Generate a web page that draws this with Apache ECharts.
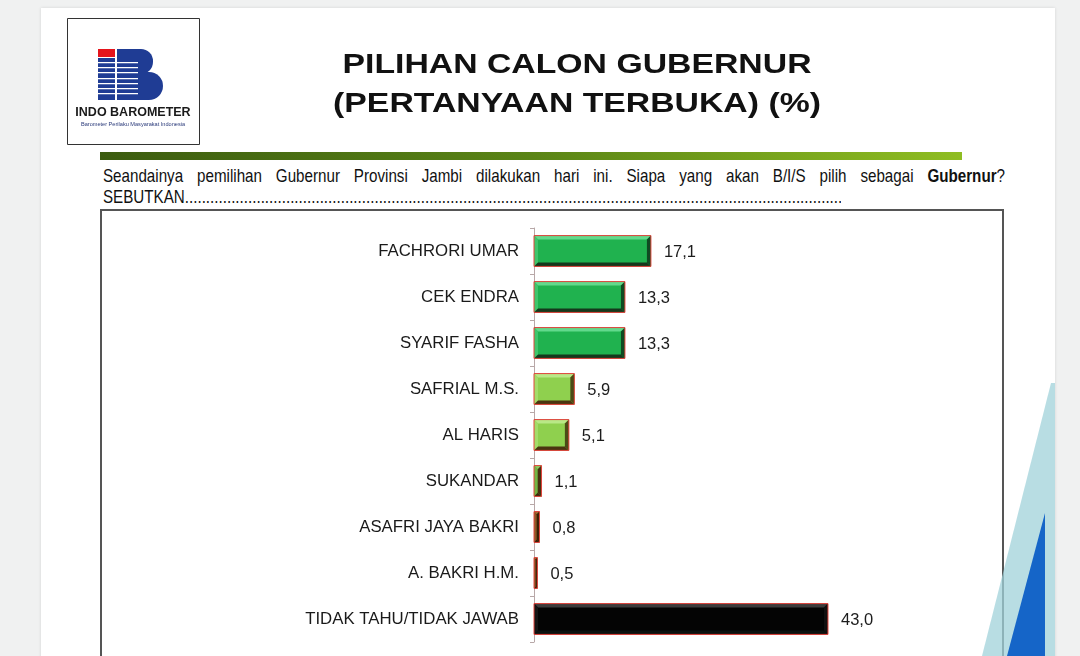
<!DOCTYPE html>
<html>
<head>
<meta charset="utf-8">
<script src="https://cdn.jsdelivr.net/npm/echarts@6/dist/echarts.min.js"></script>
<style>
  html, body { margin:0; padding:0; width:1080px; height:656px; overflow:hidden; background:#f0f1f1; }
  #slide { position:absolute; left:41px; top:8px; width:1014px; height:660px; background:#fff; box-shadow:0 0 3px rgba(0,0,0,0.12); }
  .q { position:absolute; left:103px; width:1100px; font:18.5px "Liberation Sans",Arial,sans-serif; color:#111; line-height:21px; white-space:nowrap; transform:scaleX(0.82); transform-origin:0 0; }
  #q1 { top:165px; text-align:justify; text-align-last:justify; white-space:normal; }
  #q2 { top:186px; width:900px; overflow:hidden; }
  #chart { position:absolute; left:0; top:0; width:1080px; height:656px; }
</style>
</head>
<body>
<div id="slide"></div>
<div class="q" id="q1">Seandainya pemilihan Gubernur Provinsi Jambi dilakukan hari ini. Siapa yang akan B/I/S pilih sebagai <b>Gubernur</b>?</div>
<div class="q" id="q2">SEBUTKAN..............................................................................................................................................................................................................................................</div>
<div id="chart"></div>
<script>
// ---- data ----
const categories = ['FACHRORI UMAR', 'CEK ENDRA', 'SYARIF FASHA', 'SAFRIAL M.S.', 'AL HARIS', 'SUKANDAR', 'ASAFRI JAYA BAKRI', 'A. BAKRI H.M.', 'TIDAK TAHU/TIDAK JAWAB'];
const values = [17.1, 13.3, 13.3, 5.9, 5.1, 1.1, 0.8, 0.5, 43.0];
const titleLines = ['PILIHAN CALON GUBERNUR', '(PERTANYAAN TERBUKA) (%)'];

// ---- styles ----
const greenStyle = { base:'#20b24f', top:'#62d98c', left:'#40c56c', right:'#0f4a22', bottom:'#14381c' };
const lightStyle = { base:'#8fd04e', top:'#b9e886', left:'#a3dc69', right:'#4b4a16', bottom:'#4a3510' };
const midStyle   = { base:'#5c9e2e', top:'#8cc860', left:'#74b444', right:'#4a3010', bottom:'#3e2a0c' };
const brownStyle = { base:'#7a4a1a', top:'#a36c34', left:'#8c5a26', right:'#3a2008', bottom:'#2e1a06' };
const blackStyle = { base:'#040404', top:'#3c3c3c', left:'#151515', right:'#101010', bottom:'#0b1210' };
const barStyles = [greenStyle, greenStyle, greenStyle, lightStyle, lightStyle, midStyle, brownStyle, brownStyle, blackStyle];

const chart = echarts.init(document.getElementById('chart'), null, { renderer: 'canvas' });

function fmt(v) { return v.toFixed(1).replace('.', ','); }

function renderBar(params, api) {
  const v = api.value(0), i = api.value(1);
  const p0 = api.coord([0, i]);
  const p1 = api.coord([v, i]);
  const band = api.size([0, 1])[1];
  const h = band * 0.67;
  const x0 = p0[0], x1 = p1[0], yc = p0[1], y0 = yc - h / 2, y1 = yc + h / 2;
  const w = x1 - x0;
  const b = Math.min(4, w / 2);
  const s = barStyles[i];
  return {
    type: 'group',
    children: [
      { type:'rect', shape:{ x:x0, y:y0, width:w, height:h }, style:{ fill:s.base } },
      { type:'polygon', shape:{ points:[[x0,y0],[x1,y0],[x1-b,y0+b],[x0+b,y0+b]] }, style:{ fill:s.top } },
      { type:'polygon', shape:{ points:[[x0,y0],[x0+b,y0+b],[x0+b,y1-b],[x0,y1]] }, style:{ fill:s.left } },
      { type:'polygon', shape:{ points:[[x1,y0],[x1,y1],[x1-b,y1-b],[x1-b,y0+b]] }, style:{ fill:s.right } },
      { type:'polygon', shape:{ points:[[x0,y1],[x0+b,y1-b],[x1-b,y1-b],[x1,y1]] }, style:{ fill:s.bottom } },
      { type:'rect', shape:{ x:x0, y:y0, width:w, height:h }, style:{ fill:'none', stroke:'#e0443c', lineWidth:1 } },
      { type:'text', x:x1 + 13, y:yc + 1, style:{ text: fmt(v), font:'16.5px "Liberation Sans", Arial', fill:'#1c1c1c', textAlign:'left', textVerticalAlign:'middle' } }
    ]
  };
}

// logo stripes
const stripeYs = [62, 67, 72, 78, 83, 88, 93];
const logoStripes = stripeYs.map(y => ({ type:'rect', shape:{ x:98, y:y, width:40, height:1.3 }, style:{ fill:'#ffffff' }, z:103 }));

const option = {
  animation: false,
  backgroundColor: 'transparent',
  grid: { left: 534, top: 228, width: 341.86, height: 414, containLabel: false },
  xAxis: { type: 'value', min: 0, max: 50, show: false },
  yAxis: {
    type: 'category', inverse: true, data: categories,
    axisLine: { show: true, lineStyle: { color: '#b8a8a8', width: 1 } },
    axisTick: { show: true, length: 4, lineStyle: { color: '#b8a8a8' } },
    axisLabel: { fontSize: 16.8, fontFamily: '"Liberation Sans", Arial', color: '#1a1a1a', margin: 15 },
    splitLine: { show: false }
  },
  series: [{
    type: 'custom',
    renderItem: renderBar,
    encode: { x: 0, y: 1 },
    data: values.map((v, i) => [v, i]),
    z: 5
  }],
  graphic: [
    // logo box
    { type:'rect', shape:{ x:67.5, y:18.5, width:132, height:126 }, style:{ fill:'#fff', stroke:'#333', lineWidth:1 }, z:100 },
    { type:'rect', shape:{ x:98, y:49, width:17, height:8 }, style:{ fill:'#e5141c' }, z:101 },
    { type:'rect', shape:{ x:98, y:58, width:17, height:42 }, style:{ fill:'#1f3c94' }, z:101 },
    { type:'rect', shape:{ x:117, y:49, width:36, height:25, r:[0,12,12,0] }, style:{ fill:'#1f3c94' }, z:101 },
    { type:'rect', shape:{ x:117, y:72, width:46, height:28, r:[0,14,14,0] }, style:{ fill:'#1f3c94' }, z:101 },
    { type:'rect', shape:{ x:117, y:49, width:20, height:51 }, style:{ fill:'#1f3c94' }, z:102 },
    ...logoStripes,
    { type:'text', x:133, y:113, style:{ text:'INDO BAROMETER', font:'bold 12.5px "Liberation Sans", Arial', fill:'#1a1a1a', textAlign:'center', textVerticalAlign:'middle' }, z:104 },
    { type:'text', x:133, y:124, style:{ text:'Barometer Perilaku Masyarakat Indonesia', font:'5.6px "Liberation Sans", Arial', fill:'#2a3a7a', textAlign:'center', textVerticalAlign:'middle' }, z:104 },
    // title
    { type:'text', x:577, y:65, scaleX:1.185, style:{ text:titleLines[0], font:'bold 28.5px "Liberation Sans", Arial', fill:'#111', textAlign:'center', textVerticalAlign:'middle' }, z:100 },
    { type:'text', x:577, y:104, scaleX:1.185, style:{ text:titleLines[1], font:'bold 28.5px "Liberation Sans", Arial', fill:'#111', textAlign:'center', textVerticalAlign:'middle' }, z:100 },
    // green rule
    { type:'rect', shape:{ x:100, y:152, width:862, height:8 }, style:{ fill: new echarts.graphic.LinearGradient(0,0,1,0,[{offset:0,color:'#3c5c10'},{offset:0.5,color:'#5a8416'},{offset:1,color:'#8fbd22'}]) }, z:100 },
    // chart frame
    { type:'rect', shape:{ x:101, y:210, width:902, height:470 }, style:{ fill:'none', stroke:'#555', lineWidth:2 }, z:1 },
    // right decoration
    { type:'polygon', shape:{ points:[[1051,383],[1055,383],[1055,656],[982,656]] }, style:{ fill:'rgba(160,210,218,0.75)' }, z:110 },
    { type:'polygon', shape:{ points:[[1045,513],[1045,656],[1007,656]] }, style:{ fill:'#1565c8' }, z:111 }
  ]
};
chart.setOption(option);
</script>
</body>
</html>
